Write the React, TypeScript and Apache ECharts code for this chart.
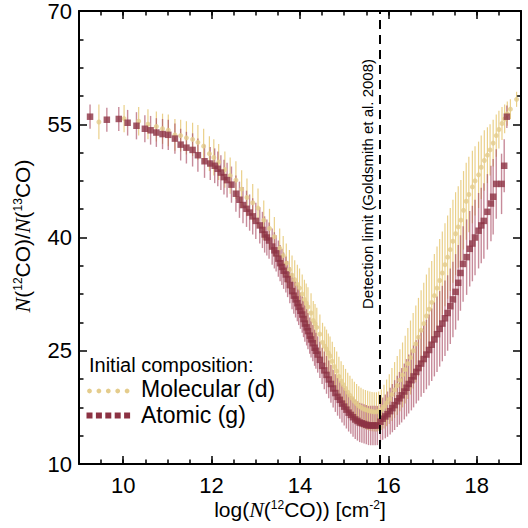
import React, { useEffect, useRef } from "react";
import * as echarts from "echarts";

// [log N(12CO), N(12CO)/N(13CO), error half-width]
const atomicPoints: number[][] = [
  [9.25, 56.0, 1.6], [9.63, 55.6, 1.6], [9.90, 55.7, 1.6], [10.10, 55.2, 1.7], [10.30, 54.8, 1.8],
  [10.49, 54.4, 1.8], [10.62, 54.2, 1.9], [10.75, 53.9, 1.9], [10.89, 53.7, 2.0], [11.02, 53.6, 2.0],
  [11.17, 53.1, 2.0], [11.30, 52.3, 2.1], [11.43, 51.9, 2.1], [11.57, 51.6, 2.2], [11.69, 50.9, 2.2],
  [11.84, 50.1, 2.2], [11.97, 49.8, 2.2], [12.07, 49.5, 2.3], [12.14, 49.1, 2.3], [12.21, 48.6, 2.3],
  [12.28, 48.0, 2.3], [12.35, 47.6, 2.3], [12.45, 47.0, 2.4], [12.55, 45.8, 2.4], [12.63, 45.0, 2.4],
  [12.71, 44.3, 2.4], [12.79, 43.8, 2.4], [12.86, 43.3, 2.4], [12.93, 42.8, 2.4], [13.00, 42.2, 2.4],
  [13.09, 41.6, 2.4], [13.15, 41.0, 2.4], [13.20, 40.4, 2.4], [13.25, 40.0, 2.4], [13.30, 39.6, 2.4],
  [13.37, 38.8, 2.4], [13.42, 38.3, 2.4], [13.46, 37.9, 2.4], [13.51, 37.2, 2.4], [13.55, 36.6, 2.4],
  [13.59, 36.1, 2.4], [13.63, 35.6, 2.4], [13.68, 35.1, 2.4], [13.72, 34.5, 2.4], [13.77, 33.7, 2.4],
  [13.82, 32.9, 2.4], [13.86, 32.3, 2.4], [13.90, 31.8, 2.4], [13.94, 31.3, 2.4], [13.97, 30.8, 2.4],
  [14.01, 30.3, 2.4], [14.05, 29.8, 2.4], [14.08, 29.2, 2.4], [14.11, 28.6, 2.4], [14.15, 28.1, 2.4],
  [14.18, 27.6, 2.4], [14.22, 27.0, 2.4], [14.25, 26.5, 2.4], [14.29, 26.0, 2.4], [14.33, 25.4, 2.4],
  [14.36, 25.0, 2.4], [14.40, 24.5, 2.4], [14.45, 23.8, 2.4], [14.50, 23.0, 2.4], [14.55, 22.4, 2.5],
  [14.60, 21.8, 2.5], [14.65, 21.2, 2.5], [14.70, 20.6, 2.5], [14.75, 20.0, 2.5], [14.80, 19.4, 2.5],
  [14.85, 18.9, 2.5], [14.90, 18.5, 2.5], [14.95, 18.0, 2.5], [15.00, 17.6, 2.5], [15.05, 17.2, 2.5],
  [15.10, 16.8, 2.5], [15.15, 16.5, 2.5], [15.20, 16.2, 2.6], [15.25, 15.9, 2.6], [15.30, 15.7, 2.6],
  [15.35, 15.5, 2.6], [15.40, 15.4, 2.6], [15.45, 15.3, 2.6], [15.50, 15.2, 2.6], [15.55, 15.1, 2.6],
  [15.60, 15.1, 2.6], [15.65, 15.1, 2.6], [15.70, 15.1, 2.6], [15.75, 15.1, 2.6],
  [15.82, 15.6, 2.7], [15.87, 16.0, 2.8], [15.93, 16.3, 2.9], [15.98, 16.6, 3.0], [16.04, 17.0, 3.1],
  [16.09, 17.4, 3.2], [16.14, 17.8, 3.3], [16.20, 18.3, 3.4], [16.25, 18.7, 3.5], [16.30, 19.1, 3.6],
  [16.36, 19.6, 3.7], [16.41, 20.1, 3.8], [16.46, 20.6, 3.9], [16.52, 21.1, 4.0], [16.57, 21.6, 4.1],
  [16.63, 22.2, 4.2], [16.68, 22.7, 4.3], [16.74, 23.3, 4.4], [16.80, 23.9, 4.5], [16.86, 24.5, 4.6],
  [16.92, 25.1, 4.7], [16.98, 25.8, 4.8], [17.04, 26.5, 4.9], [17.10, 27.2, 5.0], [17.16, 27.9, 5.0],
  [17.22, 28.6, 5.0], [17.28, 29.3, 5.0], [17.34, 30.0, 5.0], [17.40, 30.9, 5.0], [17.46, 31.8, 5.0],
  [17.52, 32.8, 5.0], [17.58, 34.0, 5.0], [17.63, 35.3, 5.0], [17.69, 36.5, 5.0], [17.77, 37.4, 5.0],
  [17.84, 38.5, 5.0], [17.90, 39.2, 5.0], [17.96, 40.0, 5.0], [18.04, 40.9, 5.0], [18.10, 41.6, 5.0],
  [18.16, 42.2, 5.0], [18.24, 43.4, 5.0], [18.32, 44.5, 5.0], [18.37, 45.4, 5.0], [18.44, 47.1, 4.6],
  [18.56, 47.1, 4.0], [18.62, 49.5, 3.5], [18.68, 56.0, 1.5],
];

const molecularPoints: number[][] = [
  [9.45, 55.3, 2.3], [10.02, 55.75, 1.8], [10.35, 55.4, 1.9], [10.56, 55.0, 2.0], [10.75, 54.7, 2.0],
  [10.89, 54.4, 2.0], [11.02, 54.2, 2.1], [11.17, 53.6, 2.1], [11.30, 53.5, 2.1], [11.43, 53.2, 2.2],
  [11.57, 53.0, 2.2], [11.69, 52.6, 2.3], [11.82, 52.1, 2.3], [11.95, 51.1, 2.3], [12.05, 50.6, 2.4],
  [12.16, 50.0, 2.4], [12.30, 49.0, 2.4], [12.42, 48.2, 2.4], [12.55, 47.6, 2.5], [12.68, 46.4, 2.5],
  [12.80, 45.3, 2.5], [12.93, 44.6, 2.5], [13.05, 43.9, 2.6], [13.18, 42.3, 2.6], [13.31, 41.2, 2.6],
  [13.42, 40.1, 2.6], [13.54, 38.6, 2.6], [13.62, 37.6, 2.6], [13.69, 36.6, 2.6], [13.76, 35.75, 2.6],
  [13.82, 35.0, 2.6], [13.88, 34.4, 2.6], [13.94, 33.8, 2.6], [13.99, 33.3, 2.6], [14.05, 32.5, 2.6],
  [14.10, 31.8, 2.6], [14.14, 31.3, 2.6], [14.18, 30.8, 2.6], [14.25, 30.0, 2.6], [14.30, 29.0, 2.6],
  [14.34, 28.6, 2.6], [14.38, 28.1, 2.6], [14.45, 27.2, 2.6], [14.51, 26.1, 2.6], [14.56, 25.6, 2.6],
  [14.60, 25.2, 2.6], [14.64, 24.7, 2.6], [14.68, 24.3, 2.6], [14.73, 23.6, 2.6], [14.78, 22.9, 2.6],
  [14.83, 22.3, 2.6], [14.88, 21.6, 2.6], [14.93, 21.0, 2.6], [14.98, 20.5, 2.6], [15.03, 20.0, 2.6],
  [15.08, 19.5, 2.6], [15.13, 19.1, 2.6], [15.18, 18.7, 2.6], [15.23, 18.3, 2.6], [15.28, 18.0, 2.6],
  [15.33, 17.7, 2.6], [15.38, 17.5, 2.6], [15.43, 17.3, 2.6], [15.48, 17.2, 2.6], [15.53, 17.1, 2.6],
  [15.58, 17.0, 2.6], [15.63, 16.95, 2.6], [15.68, 16.9, 2.6], [15.73, 16.9, 2.6], [15.78, 17.0, 2.6],
  [15.84, 17.2, 2.7], [15.90, 17.6, 2.9], [15.96, 18.1, 3.1], [16.02, 18.6, 3.3], [16.08, 19.2, 3.5],
  [16.14, 19.8, 3.7], [16.20, 20.4, 3.9], [16.26, 21.1, 4.1], [16.32, 21.8, 4.3], [16.38, 22.5, 4.5],
  [16.44, 23.3, 4.7], [16.50, 24.1, 4.9], [16.56, 25.0, 5.0], [16.62, 25.9, 5.1], [16.68, 26.8, 5.2],
  [16.74, 27.7, 5.3], [16.80, 28.6, 5.4], [16.86, 29.6, 5.5], [16.92, 30.5, 5.5], [16.98, 31.4, 5.5],
  [17.04, 32.3, 5.5], [17.10, 33.3, 5.5], [17.16, 34.3, 5.5], [17.22, 35.3, 5.5], [17.28, 36.4, 5.5],
  [17.34, 37.4, 5.5], [17.40, 38.4, 5.5], [17.46, 39.5, 5.5], [17.52, 40.5, 5.5], [17.58, 41.4, 5.4],
  [17.64, 42.3, 5.3], [17.70, 43.6, 5.2], [17.76, 44.8, 5.1], [17.82, 45.7, 5.0], [17.90, 46.7, 4.8],
  [17.96, 47.5, 4.6], [18.04, 48.3, 4.4], [18.10, 49.3, 4.2], [18.17, 50.2, 4.0], [18.24, 50.9, 3.7],
  [18.30, 51.6, 3.4], [18.37, 52.5, 3.1], [18.44, 53.5, 2.8], [18.50, 54.3, 2.5], [18.57, 55.1, 2.2],
  [18.63, 55.7, 1.9], [18.69, 56.4, 1.6], [18.76, 57.0, 1.3], [18.90, 58.3, 1.0],
];

const xTickValues = [10, 12, 14, 16, 18];
const xRange = [9, 19];
const yRange = [10, 70];
const yInterval = 15;
const detectionLimit = 15.8;

const legendTitle = "Initial composition:";
const molecularName = "Molecular (d)";
const atomicName = "Atomic (g)";
const detectionText = "Detection limit (Goldsmith et al. 2008)";

const SANS = "'Liberation Sans', Arial, Helvetica, sans-serif";
const SERIF = "'Liberation Serif', 'Times New Roman', serif";

const RED = "#8c3243";
const RED_BAR = "rgba(165,68,92,0.62)";
const YELLOW = "#e4cc8c";
const YELLOW_BAR = "rgba(230,200,118,0.85)";

function errorBarSeries(points: number[][], color: string, width: number, z: number) {
  return {
    type: "custom",
    data: points.map((p) => [p[0], p[1] - p[2], p[1] + p[2]]),
    encode: { x: 0, y: [1, 2] },
    z,
    silent: true,
    renderItem: (params: any, api: any) => {
      const lo = api.coord([api.value(0), api.value(1)]);
      const hi = api.coord([api.value(0), api.value(2)]);
      return {
        type: "line",
        shape: { x1: lo[0], y1: lo[1], x2: hi[0], y2: hi[1] },
        style: { stroke: color, lineWidth: width },
      };
    },
  };
}

export default function App() {
  const ref = useRef<HTMLDivElement>(null);
  useEffect(() => {
    if (!ref.current) return;
    const chart = echarts.init(ref.current, null, { renderer: "svg" });
    const tickStyle = { color: "#000", width: 1.5 };
    const lineStyle = { color: "#000", width: 2 };
    const richLabel = {
      base: { fontFamily: SANS, fontSize: 21, color: "#000", lineHeight: 20 },
      it: { fontFamily: SERIF, fontStyle: "italic", fontSize: 22, color: "#000", lineHeight: 20 },
      sup: { fontFamily: SANS, fontSize: 12, color: "#000", verticalAlign: "top", lineHeight: 12 },
    };
    const legendDots = [0, 1, 2, 3, 4].map((i) => ({
      type: "circle",
      shape: { cx: 89.5 + i * 9.4, cy: 391, r: 2.4 },
      style: { fill: YELLOW },
    }));
    const legendSquares = [0, 1, 2, 3, 4].map((i) => ({
      type: "rect",
      shape: { x: 86.5 + i * 9.4, y: 412.5, width: 6, height: 6 },
      style: { fill: RED },
    }));
    chart.setOption({
      animation: false,
      backgroundColor: "#fff",
      grid: { left: 79, right: 7, top: 8, bottom: 64, containLabel: false },
      xAxis: [
        {
          type: "value", position: "bottom", min: xRange[0], max: xRange[1],
          axisLine: { show: true, onZero: false, lineStyle },
          axisTick: { show: true, inside: true, length: 8, lineStyle: tickStyle, customValues: xTickValues },
          axisLabel: { show: true, customValues: xTickValues, color: "#000", fontSize: 22, fontFamily: SANS, margin: 13, lineHeight: 17 },
          splitLine: { show: false },
        },
        {
          type: "value", position: "bottom", min: xRange[0], max: xRange[1], interval: 0.5,
          axisLine: { show: false },
          axisTick: { show: true, inside: true, length: 4.5, lineStyle: tickStyle },
          axisLabel: { show: false },
          splitLine: { show: false },
        },
        {
          type: "value", position: "top", min: xRange[0], max: xRange[1],
          axisLine: { show: true, onZero: false, lineStyle },
          axisTick: { show: true, inside: true, length: 8, lineStyle: tickStyle, customValues: xTickValues },
          axisLabel: { show: false },
          splitLine: { show: false },
        },
        {
          type: "value", position: "top", min: xRange[0], max: xRange[1], interval: 0.5,
          axisLine: { show: false },
          axisTick: { show: true, inside: true, length: 4.5, lineStyle: tickStyle },
          axisLabel: { show: false },
          splitLine: { show: false },
        },
      ],
      yAxis: [
        {
          type: "value", position: "left", min: yRange[0], max: yRange[1], interval: yInterval,
          axisLine: { show: true, onZero: false, lineStyle },
          axisTick: { show: true, inside: true, length: 8, lineStyle: tickStyle },
          minorTick: { show: true, splitNumber: 4, length: 4.5, lineStyle: tickStyle },
          axisLabel: { show: true, color: "#000", fontSize: 22, fontFamily: SANS, margin: 7 },
          splitLine: { show: false },
          minorSplitLine: { show: false },
        },
        {
          type: "value", position: "right", min: yRange[0], max: yRange[1], interval: yInterval,
          axisLine: { show: true, onZero: false, lineStyle },
          axisTick: { show: true, inside: true, length: 8, lineStyle: tickStyle },
          minorTick: { show: true, splitNumber: 4, length: 4.5, lineStyle: tickStyle },
          axisLabel: { show: false },
          splitLine: { show: false },
          minorSplitLine: { show: false },
        },
      ],
      series: [
        errorBarSeries(molecularPoints, YELLOW_BAR, 1.2, 1),
        errorBarSeries(atomicPoints, RED_BAR, 1.4, 2),
        {
          name: molecularName,
          type: "scatter",
          z: 3,
          data: molecularPoints.map((p) => [p[0], p[1]]),
          symbol: "circle",
          symbolSize: 5,
          itemStyle: { color: YELLOW },
        },
        {
          name: atomicName,
          type: "scatter",
          z: 4,
          data: atomicPoints.map((p) => [p[0], p[1]]),
          symbol: "rect",
          symbolSize: 6.5,
          itemStyle: { color: RED },
          markLine: {
            silent: true,
            symbol: ["none", "none"],
            label: { show: false },
            lineStyle: { color: "#000", width: 2, type: [9, 6] },
            data: [{ xAxis: detectionLimit }],
          },
        },
      ],
      graphic: [
        {
          type: "text",
          x: 22, y: 236, rotation: Math.PI / 2,
          style: {
            text: "{it|N}{base|(}{sup|12}{base|CO)/}{it|N}{base|(}{sup|13}{base|CO)}",
            rich: richLabel, align: "center", verticalAlign: "middle",
          },
        },
        {
          type: "text",
          x: 300, y: 509,
          style: {
            text: "{base|log(}{it|N}{base|(}{sup|12}{base|CO)) [cm}{sup|-2}{base|]}",
            rich: richLabel, align: "center", verticalAlign: "middle",
          },
        },
        {
          type: "text",
          x: 367, y: 184, rotation: Math.PI / 2,
          style: { text: detectionText, fontFamily: SANS, fontSize: 15, fill: "#000", align: "center", verticalAlign: "middle" },
        },
        {
          type: "text",
          x: 89, y: 365,
          style: { text: legendTitle, fontFamily: SANS, fontSize: 20, lineHeight: 17, fill: "#000", align: "left", verticalAlign: "middle" },
        },
        {
          type: "text",
          x: 141, y: 389,
          style: { text: molecularName, fontFamily: SANS, fontSize: 23, lineHeight: 20, fill: "#000", align: "left", verticalAlign: "middle" },
        },
        {
          type: "text",
          x: 141, y: 415,
          style: { text: atomicName, fontFamily: SANS, fontSize: 23, lineHeight: 20, fill: "#000", align: "left", verticalAlign: "middle" },
        },
        ...legendDots,
        ...legendSquares,
      ],
    });
    return () => chart.dispose();
  }, []);
  return <div ref={ref} style={{ position: "absolute", left: 0, top: 0, width: 528, height: 528 }} />;
}
